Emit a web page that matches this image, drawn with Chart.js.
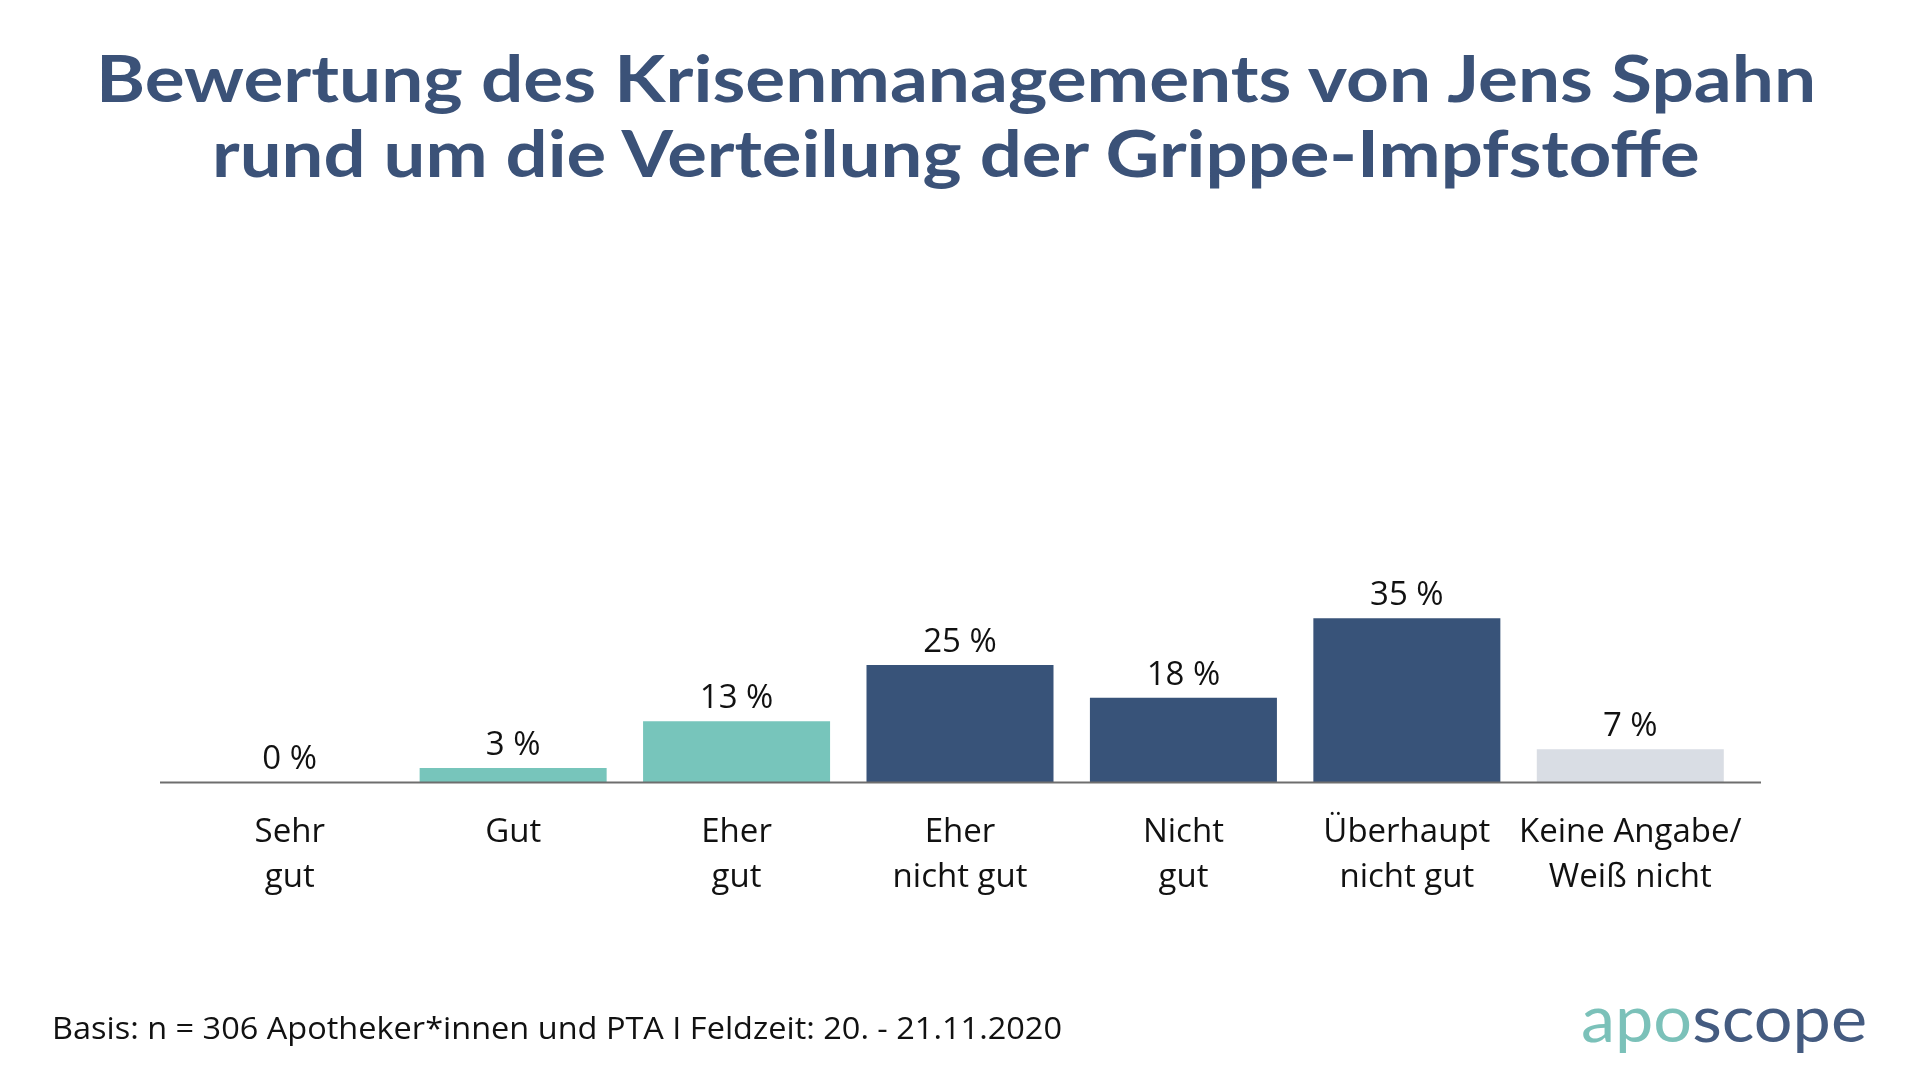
<!DOCTYPE html>
<html lang="de">
<head>
<meta charset="utf-8">
<title>Bewertung des Krisenmanagements von Jens Spahn</title>
<script src="https://cdn.jsdelivr.net/npm/chart.js@4.4.1/dist/chart.umd.min.js"></script>
<style>
  html, body { margin: 0; padding: 0; background: #ffffff; }
  #wrap { position: relative; width: 1920px; height: 1080px; overflow: hidden; background: #fff; }
  #chartBox { position: absolute; left: 0; top: 0; width: 1920px; height: 1080px; }
  .txt { position: absolute; white-space: nowrap; transform-origin: 0 0; margin: 0; }
  #t1, #t2 { color: #3b5278; font-weight: 700; font-family: Lato, "Open Sans", sans-serif; }
  #foot { color: #111111; font-family: "Open Sans", sans-serif; font-weight: 400; }
  #logo { font-family: Lato, "Open Sans", sans-serif; font-weight: 400; }
  #logo .a { color: #7bc1b9; }
  #logo .b { color: #445b80; }
</style>
</head>
<body>
<div id="wrap">
  <div id="chartBox"><canvas id="chart"></canvas></div>
  <div id="t1" class="txt">Bewertung des Krisenmanagements von Jens Spahn</div>
  <div id="t2" class="txt">rund um die Verteilung der Grippe-Impfstoffe</div>
  <div id="foot" class="txt">Basis: n = 306 Apotheker*innen und PTA I Feldzeit: 20. - 21.11.2020</div>
  <div id="logo" class="txt"><span class="a">apo</span><span class="b">scope</span></div>
</div>
<script>
// ---- data ----
const categories = [
  ['Sehr', 'gut'],
  ['Gut'],
  ['Eher', 'gut'],
  ['Eher', 'nicht gut'],
  ['Nicht', 'gut'],
  ['Überhaupt', 'nicht gut'],
  ['Keine Angabe/', 'Weiß nicht']
];
const values = [0, 3, 13, 25, 18, 35, 7];
const valueSuffix = ' %';
const groups = ['pos', 'pos', 'pos', 'neg', 'neg', 'neg', 'na'];

// ---- styles ----
const groupColors = { pos: '#77c5bb', neg: '#385379', na: '#d9dde4' };
const barColors = groups.map(g => groupColors[g]);

// ---- text placement helpers ----
const mctx = document.createElement('canvas').getContext('2d');
function placeText(el, opt) {
  const text = el.textContent;
  mctx.font = `${opt.weight} 100px ${opt.family}`;
  const capRatio = mctx.measureText('H').actualBoundingBoxAscent / 100;
  let size;
  if (opt.cap) size = opt.cap / capRatio;
  else if (opt.xh) { size = opt.xh / (mctx.measureText('x').actualBoundingBoxAscent / 100); }
  else size = opt.size;
  mctx.font = `${opt.weight} ${size}px ${opt.family}`;
  const m = mctx.measureText(text);
  const asc = m.fontBoundingBoxAscent, desc = m.fontBoundingBoxDescent;
  const sx = opt.width ? opt.width / m.width : 1;
  el.style.fontSize = size + 'px';
  el.style.lineHeight = (asc + desc) + 'px';
  el.style.top = (opt.baseline - asc) + 'px';
  const w = m.width * sx;
  const left = opt.center !== undefined ? opt.center - w / 2 : opt.left;
  el.style.left = left + 'px';
  el.style.transform = `scaleX(${sx})`;
}
placeText(document.getElementById('t1'), { family: 'Lato', weight: 700, cap: 48, width: 1724, center: 958, baseline: 102 });
placeText(document.getElementById('t2'), { family: 'Lato', weight: 700, cap: 48, width: 1492, center: 958, baseline: 177 });
placeText(document.getElementById('foot'), { family: '"Open Sans"', weight: 400, cap: 23, width: 1010, left: 52, baseline: 1039 });
placeText(document.getElementById('logo'), { family: 'Lato', weight: 400, xh: 33, width: 286, left: 1581, baseline: 1042 });

// ---- plugins ----
const baselinePlugin = {
  id: 'baseline',
  afterDatasetsDraw(chart) {
    const { ctx, chartArea, scales } = chart;
    const y = Math.round(scales.y.getPixelForValue(0)) + 0.5;
    ctx.save();
    ctx.strokeStyle = '#6e6e6e';
    ctx.lineWidth = 2;
    ctx.beginPath();
    ctx.moveTo(chartArea.left - 18, y);
    ctx.lineTo(chartArea.right + 19, y);
    ctx.stroke();
    ctx.restore();
  }
};
const valueLabelPlugin = {
  id: 'valueLabels',
  afterDatasetsDraw(chart) {
    const { ctx } = chart;
    const meta = chart.getDatasetMeta(0);
    ctx.save();
    ctx.font = '400 33px "Open Sans"';
    ctx.fillStyle = '#111111';
    ctx.textAlign = 'center';
    ctx.textBaseline = 'alphabetic';
    meta.data.forEach((bar, i) => {
      ctx.fillText(values[i] + valueSuffix, bar.x, bar.y - 13);
    });
    ctx.restore();
  }
};

// ---- chart ----
new Chart(document.getElementById('chart'), {
  type: 'bar',
  data: {
    labels: categories,
    datasets: [{
      data: values,
      backgroundColor: barColors,
      borderWidth: 0,
      barPercentage: 0.837,
      categoryPercentage: 1.0
    }]
  },
  options: {
    responsive: true,
    maintainAspectRatio: false,
    animation: false,
    events: [],
    layout: { padding: { left: 178, right: 178, top: 314, bottom: 152 } },
    plugins: {
      legend: { display: false },
      tooltip: { enabled: false },
      title: { display: false }
    },
    scales: {
      x: {
        grid: { display: false, drawTicks: false },
        border: { display: false },
        ticks: {
          color: '#111111',
          font: { family: '"Open Sans"', size: 33, weight: 400, lineHeight: '45px' },
          padding: 28,
          maxRotation: 0,
          autoSkip: false
        }
      },
      y: {
        display: false,
        min: 0,
        max: 100
      }
    }
  },
  plugins: [baselinePlugin, valueLabelPlugin]
});
</script>
</body>
</html>
